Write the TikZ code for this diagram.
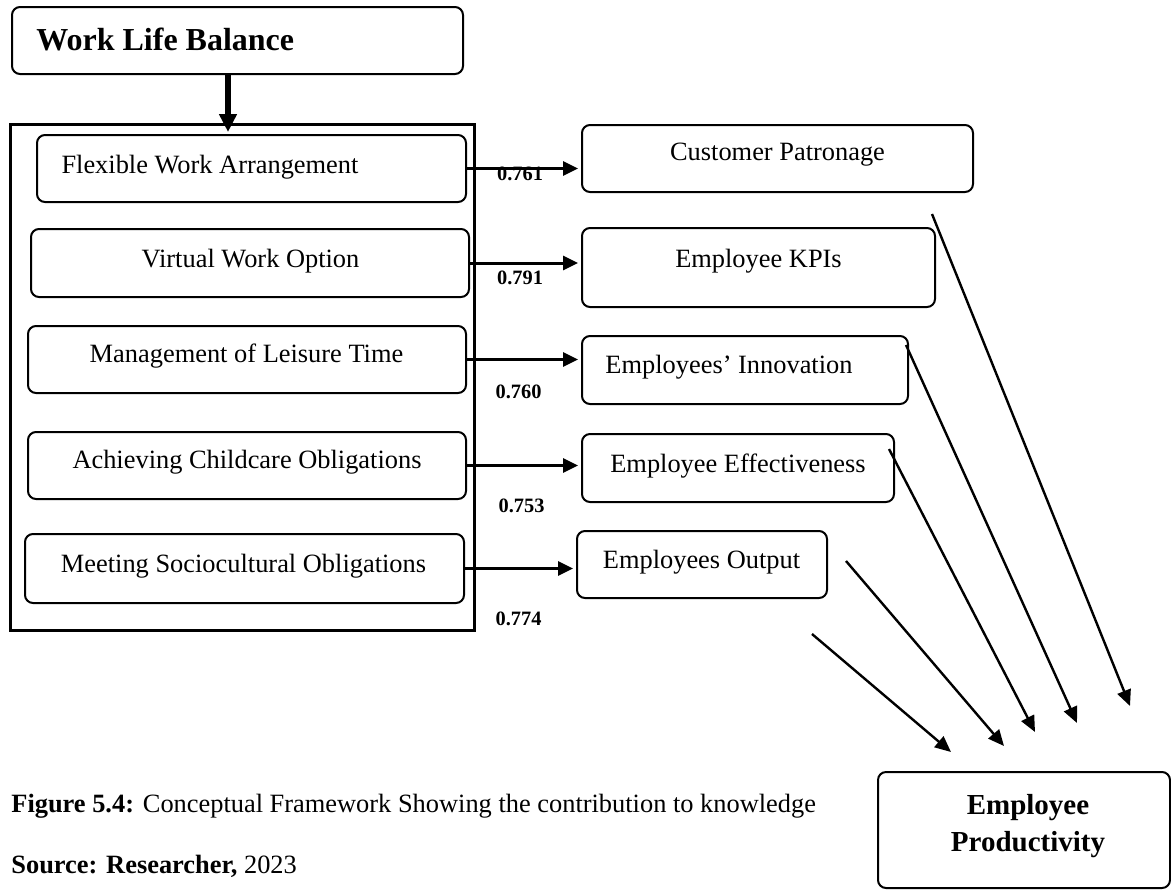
\documentclass[tikz,border=0pt]{standalone}
\usepackage{fontspec}
\setmainfont{Liberation Serif}
\usetikzlibrary{positioning,calc,arrows,arrows.meta}

\begin{document}
\begin{tikzpicture}[x=0.5pt, y=-0.5pt,
    box/.style={draw, line width=1pt, rounded corners=4pt, inner sep=0pt},
    txt/.style={anchor=base, inner sep=0pt, font=\fontsize{13.2}{16}\selectfont},
    coef/.style={anchor=base, inner sep=0pt, font=\fontsize{10.2}{12}\selectfont\bfseries},
    flow/.style={-{Triangle[length=7.5pt,width=7pt]}, line width=1.5pt, shorten >=1.5pt},
    link/.style={-{Triangle[length=8pt,width=7pt]}, line width=1.2pt}
  ]

    \useasboundingbox (0,0) rectangle (1171,890);

    % independent variable
    \node[box, minimum width=225.5pt, minimum height=33.5pt] (wlb) at (237.5,40.5) {};
    \node[txt, anchor=base west, font=\fontsize{16}{19}\selectfont\bfseries] (wlb-t) at (36,50) {Work Life Balance};

    \node[draw, line width=1.5pt, minimum width=232pt, minimum height=253pt] (frame) at (242,377) {};

    % dimensions
    \node[box, minimum width=214.5pt, minimum height=33.5pt] (fwa) at (251.5,168.5) {};
    \node[box, minimum width=219pt, minimum height=34pt] (vwo) at (250,263) {};
    \node[box, minimum width=219pt, minimum height=33.5pt] (mlt) at (247,359.5) {};
    \node[box, minimum width=219pt, minimum height=33.5pt] (aco) at (247,465.5) {};
    \node[box, minimum width=219.5pt, minimum height=34.5pt] (mso) at (244.5,568.5) {};

    \node[txt] (fwa-t) at (210,173) {Flexible Work Arrangement};
    \node[txt] (vwo-t) at (250.5,267) {Virtual Work Option};
    \node[txt] (mlt-t) at (246.5,362) {Management of Leisure Time};
    \node[txt] (aco-t) at (247,468) {Achieving Childcare Obligations};
    \node[txt] (mso-t) at (243.5,572) {Meeting Sociocultural Obligations};

    % measures
    \node[box, minimum width=195.5pt, minimum height=33.5pt] (cp) at (777.5,158.5) {};
    \node[box, minimum width=176.5pt, minimum height=39.5pt] (kpi) at (758.5,267.5) {};
    \node[box, minimum width=163pt, minimum height=34pt] (ei) at (745,370) {};
    \node[box, minimum width=156pt, minimum height=34pt] (ee) at (738,468) {};
    \node[box, minimum width=125pt, minimum height=33.5pt] (eo) at (702,564.5) {};

    \node[txt] (cp-t) at (777.5,160) {Customer Patronage};
    \node[txt] (kpi-t) at (758.5,267) {Employee KPIs};
    \node[txt] (ei-t) at (729,373) {Employees’ Innovation};
    \node[txt] (ee-t) at (738,472) {Employee Effectiveness};
    \node[txt] (eo-t) at (701.5,568) {Employees Output};

    % dependent variable
    \node[box, minimum width=146pt, minimum height=58pt] (ep) at (1024,830) {};
    \node[align=center, inner sep=0pt, font=\fontsize{14.5}{18.5}\selectfont\bfseries] (ep-t) at (1028,826.5) {Employee\\Productivity};

    \draw[-{Triangle[length=9pt,width=8.5pt]}, line width=3pt] ([xshift=-4.75pt]wlb.south) -- ([xshift=-4.75pt,yshift=1pt]wlb.south |- fwa.north);

    \foreach \a/\b in {fwa/cp, vwo/kpi, mlt/ei, aco/ee, mso/eo}
        \draw[flow] (\a.east) -- (\a.east -| \b.west);

    \node[coef] (c1) at (520,180) {0.761};
    \node[coef] (c2) at (520,284) {0.791};
    \node[coef] (c3) at (518.5,398) {0.760};
    \node[coef] (c4) at (521.5,512) {0.753};
    \node[coef] (c5) at (518.5,625) {0.774};

    % paths into productivity
    \coordinate (cp-out) at (932,214);
    \coordinate (ei-out) at (906,345);
    \coordinate (ee-out) at (889,449);
    \coordinate (eo-out) at (846,561);
    \coordinate (eo-low) at (812,634);
    \coordinate (ep-in1) at (1130,706);
    \coordinate (ep-in2) at (1077,723);
    \coordinate (ep-in3) at (1035,732);
    \coordinate (ep-in4) at (1004,746);
    \coordinate (ep-in5) at (951,752);

    \draw[link] (cp-out) -- (ep-in1);
    \draw[link] (ei-out) -- (ep-in2);
    \draw[link] (ee-out) -- (ep-in3);
    \draw[link] (eo-out) -- (ep-in4);
    \draw[link] (eo-low) -- (ep-in5);

    \node[txt, anchor=base west] (caption) at (11,812) {\textbf{Figure 5.4:} Conceptual Framework Showing the contribution to knowledge};
    \node[txt, anchor=base west] (source) at (11,873) {\textbf{Source: Researcher,} 2023};

\end{tikzpicture}
\end{document}
